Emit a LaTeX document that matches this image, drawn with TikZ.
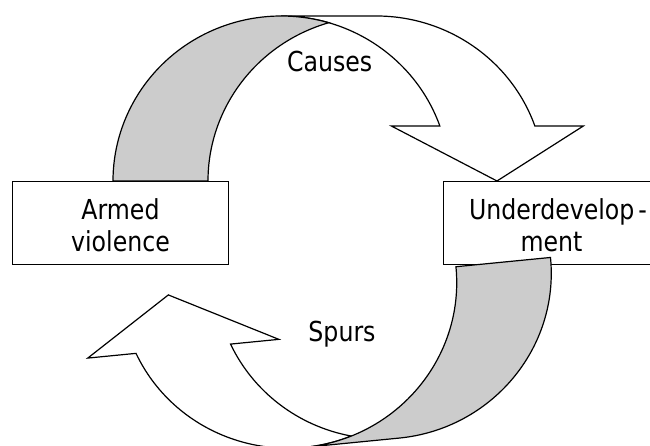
\documentclass[tikz,border=0pt]{standalone}
\usepackage{fontspec}
\setmainfont{DejaVu Sans}[FakeStretch=0.86]
\definecolor{shadegray}{RGB}{204,204,204}
\begin{document}
\begin{tikzpicture}[x=1pt,y=1pt, line width=1.2pt,
  band/.style={fill=white, draw=black, line join=miter},
  back/.style={fill=shadegray, draw=black},
  box/.style={draw, fill=white, minimum width=215.6pt, minimum height=82.6pt, inner sep=0pt, outer sep=0pt},
  lbl/.style={inner sep=0pt, outer sep=0pt, anchor=base, font=\fontsize{27.5}{33}\selectfont}]
\useasboundingbox (0,0) rectangle (650,446);
\clip (0,0) rectangle (650,446);
% upper curved arrow (Causes)
\path[band] (497,265) -- (391.35,320) -- (439.85,320)
  arc[start angle=19.47, end angle=90, x radius=168.25, y radius=165]
  -- (376.25,430)
  arc[start angle=90, end angle=19.47, x radius=168.25, y radius=165]
  -- (583.35,320) -- cycle;
\path[back] (113,265)
  arc[start angle=180, end angle=73.6, x radius=168.25, y radius=165]
  arc[start angle=106.4, end angle=180, x radius=168.25, y radius=165] -- cycle;
% boxes
\node[box] (armed) at (120.5,223) {};
\node[box] (under) at (551,223) {};
% lower curved arrow (Spurs)
\begin{scope}[shift={(72.8,141.7)}, rotate=5.6]
\path[band] (96,0) -- (9.65,-55) -- (58.12,-55)
  arc[start angle=199.47, end angle=286.4, x radius=168.25, y radius=165]
  arc[start angle=253.6, end angle=199.47, x radius=168.25, y radius=165]
  -- (201.65,-55) -- cycle;
\path[back] (311.75,-165)
  arc[start angle=270, end angle=360, x radius=168.25, y radius=165]
  -- (385,0)
  arc[start angle=360, end angle=270, x radius=168.25, y radius=165] -- cycle;
\end{scope}
% texts
\node[lbl] (t1) at (120.5,226.7) {Armed};
\node[lbl] (t2) at (120.5,194.3) {violence};
\node[lbl] (t3) at (558,226.7) {Underdevelop\kern4pt-};
\node[lbl] (t4) at (551.5,194.3) {ment};
\node[lbl] (t5) at (329.7,374.3) {Causes};
\node[lbl] (t6) at (342,104.3) {Spurs};
\end{tikzpicture}
\end{document}
